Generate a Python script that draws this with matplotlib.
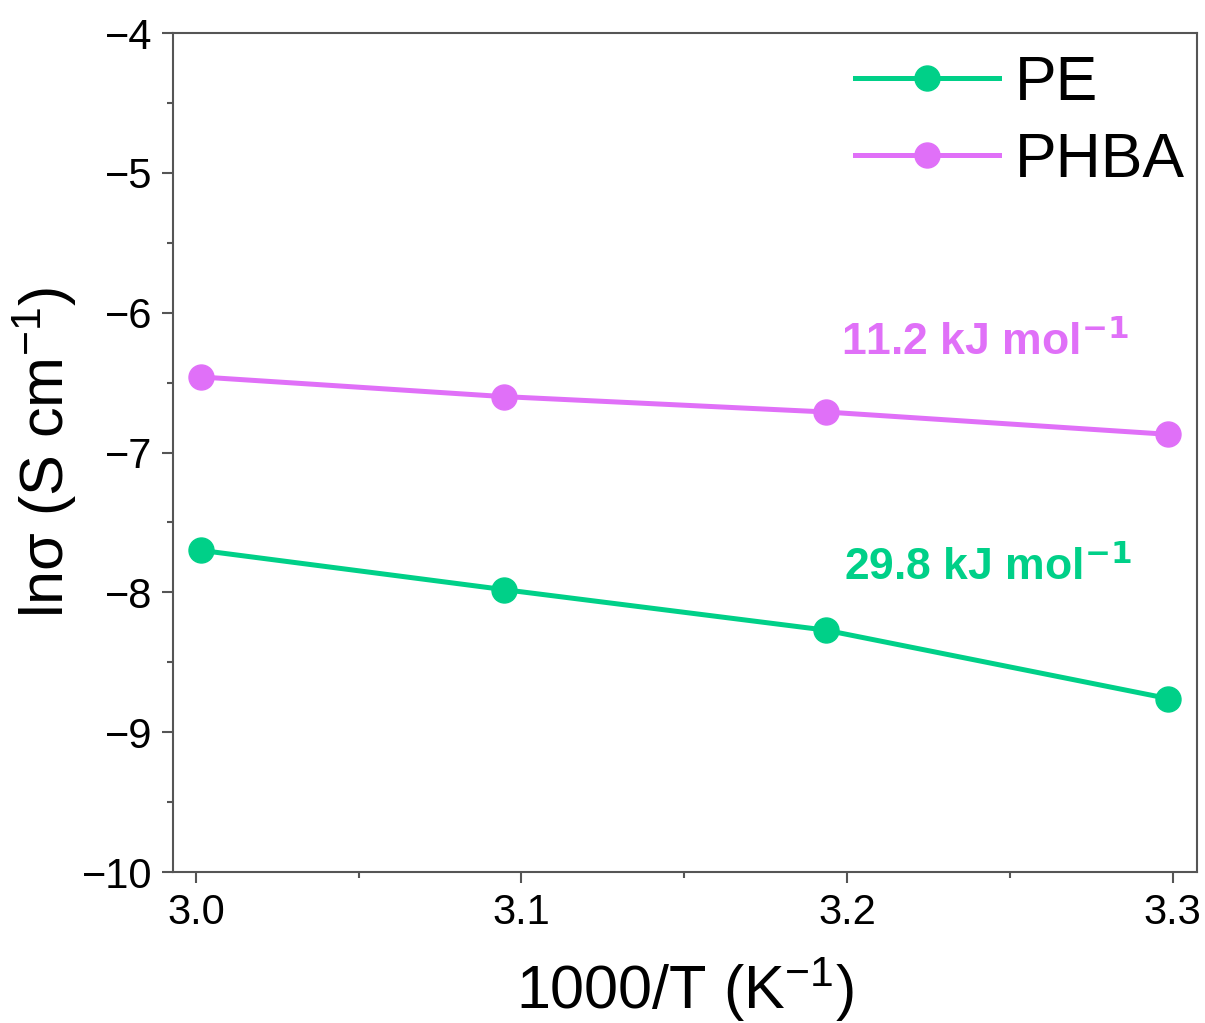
import matplotlib
matplotlib.use("Agg")
import matplotlib.pyplot as plt
from matplotlib.ticker import MultipleLocator

plt.rcParams["font.family"] = "Liberation Sans"
plt.rcParams["mathtext.default"] = "regular"

# 1000/T values (K^-1) for 333, 323, 313, 303 K
inv_t = [3.0017, 3.0945, 3.1934, 3.2987]
pe_ln_sigma = [-7.70, -7.98, -8.27, -8.76]
phba_ln_sigma = [-6.46, -6.60, -6.71, -6.87]

pe_color = "#00D088"
phba_color = "#E070F8"
axis_color = "#555555"

fig = plt.figure(figsize=(12.05, 10.23), dpi=100)
ax = fig.add_axes([0.1436, 0.1476, 0.8498, 0.8201])

ax.plot(inv_t, pe_ln_sigma, "-o", color=pe_color, lw=3.6, ms=18, label="PE")
ax.plot(inv_t, phba_ln_sigma, "-o", color=phba_color, lw=3.6, ms=18, label="PHBA")

ax.text(3.198, -6.30, "11.2 kJ mol$^{\\mathbf{-1}}$", color=phba_color,
        fontsize=32, fontweight="bold", ha="left", va="baseline")
ax.text(3.199, -7.91, "29.8 kJ mol$^{\\mathbf{-1}}$", color=pe_color,
        fontsize=32, fontweight="bold", ha="left", va="baseline")

ax.set_xlim(2.993, 3.3075)
ax.set_ylim(-10, -4)
ax.xaxis.set_major_locator(MultipleLocator(0.1))
ax.xaxis.set_minor_locator(MultipleLocator(0.05))
ax.yaxis.set_major_locator(MultipleLocator(1))
ax.yaxis.set_minor_locator(MultipleLocator(0.5))
ax.xaxis.set_major_formatter(matplotlib.ticker.FormatStrFormatter("%.1f"))

for side in ax.spines.values():
    side.set_color(axis_color)
    side.set_linewidth(1.5)
ax.tick_params(which="major", direction="out", length=8, width=1.5,
               color=axis_color, labelsize=30, pad=7)
ax.tick_params(which="minor", direction="out", length=4.5, width=1.5,
               color=axis_color)

ax.set_xlabel("1000/T (K$^{-1}$)", fontsize=44, labelpad=16)
ax.set_ylabel("ln\u03c3 (S cm$^{-1}$)", fontsize=44, labelpad=2)

ax.legend(loc="upper right", bbox_to_anchor=(1.0, 0.99), frameon=False,
          fontsize=45, handlelength=2.3, handletextpad=0.25,
          labelspacing=0.29, borderpad=0.2, borderaxespad=0.0)

fig.savefig("out.png", dpi=100)
